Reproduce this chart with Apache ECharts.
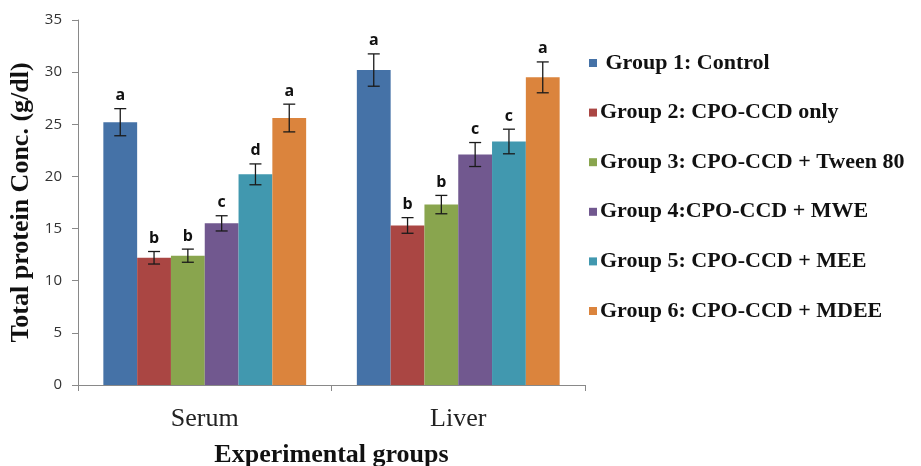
<!DOCTYPE html>
<html>
<head>
<meta charset="utf-8">
<script src="https://cdn.jsdelivr.net/npm/echarts@6/dist/echarts.min.js"></script>
<style>html,body{margin:0;padding:0;background:#fff}#c{width:921px;height:466px}</style>
</head>
<body>
<div id="c"></div>
<script>
const categories = ['Serum', 'Liver'];
const groups = ['Group 1: Control', 'Group 2: CPO-CCD only', 'Group 3: CPO-CCD + Tween 80', 'Group 4:CPO-CCD + MWE', 'Group 5: CPO-CCD + MEE', 'Group 6: CPO-CCD + MDEE'];
const colors = ['#4572A7', '#AA4643', '#89A54E', '#71588F', '#4198AF', '#DB843D'];
const group1 = [25.2, 30.2];
const group2 = [12.2, 15.3];
const group3 = [12.4, 17.3];
const group4 = [15.5, 22.1];
const group5 = [20.2, 23.35];
const group6 = [25.6, 29.5];
const err1 = [1.3, 1.55];
const err2 = [0.6, 0.75];
const err3 = [0.63, 0.88];
const err4 = [0.73, 1.15];
const err5 = [1.0, 1.18];
const err6 = [1.33, 1.48];
const letters1 = ['a', 'a'];
const letters2 = ['b', 'b'];
const letters3 = ['b', 'b'];
const letters4 = ['c', 'c'];
const letters5 = ['d', 'c'];
const letters6 = ['a', 'a'];
const yTicks = [0, 5, 10, 15, 20, 25, 30, 35];

const values = [group1, group2, group3, group4, group5, group6];
const errs = [err1, err2, err3, err4, err5, err6];
const letters = [letters1, letters2, letters3, letters4, letters5, letters6];
const catGapRatio = 0.2;

const errData = [];
values.forEach((vals, si) => {
  vals.forEach((v, ci) => {
    errData.push([ci, v - errs[si][ci], v + errs[si][ci], si, letters[si][ci]]);
  });
});

const chart = echarts.init(document.getElementById('c'), null, {renderer: 'canvas'});
const series = groups.map((g, i) => ({
  name: g,
  type: 'bar',
  data: values[i],
  barGap: '0%',
  barCategoryGap: '20%',
  itemStyle: {color: colors[i]},
  emphasis: {disabled: true}
}));
series.push({
  type: 'custom',
  name: 'err',
  data: errData,
  z: 10,
  renderItem: function (params, api) {
    const ci = api.value(0);
    const lo = api.value(1), hi = api.value(2), si = api.value(3);
    const letter = errData[params.dataIndex][4];
    const catW = api.size([1, 0])[0];
    const groupW = catW * (1 - catGapRatio);
    const bw = groupW / groups.length;
    const center = api.coord([ci, 0])[0];
    const x = center - groupW / 2 + (si + 0.5) * bw;
    const yHi = api.coord([ci, hi])[1];
    const yLo = api.coord([ci, lo])[1];
    const cap = 6;
    const st = {stroke: '#1a1a1a', lineWidth: 1.3};
    return {
      type: 'group',
      children: [
        {type: 'line', shape: {x1: x, y1: yHi, x2: x, y2: yLo}, style: st},
        {type: 'line', shape: {x1: x - cap, y1: yHi, x2: x + cap, y2: yHi}, style: st},
        {type: 'line', shape: {x1: x - cap, y1: yLo, x2: x + cap, y2: yLo}, style: st},
        {type: 'text', x: x, y: yHi - 5, style: {text: letter, fill: '#111', font: 'bold 16px "Open Sans", sans-serif', textAlign: 'center', textVerticalAlign: 'bottom'}}
      ]
    };
  }
});

chart.setOption({
  animation: false,
  color: colors,
  grid: {left: 78, right: 336, top: 20, bottom: 81, containLabel: false, outerBoundsMode: 'none'},
  legend: {
    orient: 'vertical',
    left: 584,
    top: 47,
    itemWidth: 8,
    itemHeight: 8,
    itemGap: 27.6,
    icon: 'rect',
    data: groups,
    formatter: n => (n === groups[0] ? ' ' + n : n),
    textStyle: {fontFamily: '"Liberation Serif", "Times New Roman", serif', fontWeight: 'bold', fontSize: 22, color: '#111', padding: [0, 0, 0, -2]}
  },
  xAxis: {
    type: 'category',
    data: categories,
    name: 'Experimental groups',
    nameLocation: 'middle',
    nameGap: 57,
    nameTextStyle: {fontFamily: '"Liberation Serif", "Times New Roman", serif', fontWeight: 'bold', fontSize: 26, color: '#111'},
    axisLine: {lineStyle: {color: '#898989', width: 1}},
    axisTick: {show: true, length: 6, lineStyle: {color: '#898989'}},
    axisLabel: {margin: 21, fontFamily: '"Liberation Serif", "Times New Roman", serif', fontSize: 26, color: '#222'}
  },
  yAxis: {
    type: 'value',
    min: 0,
    max: 35,
    interval: 5,
    name: 'Total protein Conc. (g/dl)',
    nameLocation: 'middle',
    nameGap: 40,
    nameTextStyle: {fontFamily: '"Liberation Serif", "Times New Roman", serif', fontWeight: 'bold', fontSize: 26, color: '#111'},
    axisLine: {show: true, lineStyle: {color: '#898989', width: 1}},
    axisTick: {show: true, length: 6, lineStyle: {color: '#898989'}},
    splitLine: {show: false},
    axisLabel: {margin: 16, fontFamily: '"Open Sans", "Liberation Sans", sans-serif', fontSize: 15, color: '#333', formatter: v => (yTicks.includes(v) ? String(v) : '')}
  },
  series: series
});
</script>
</body>
</html>
